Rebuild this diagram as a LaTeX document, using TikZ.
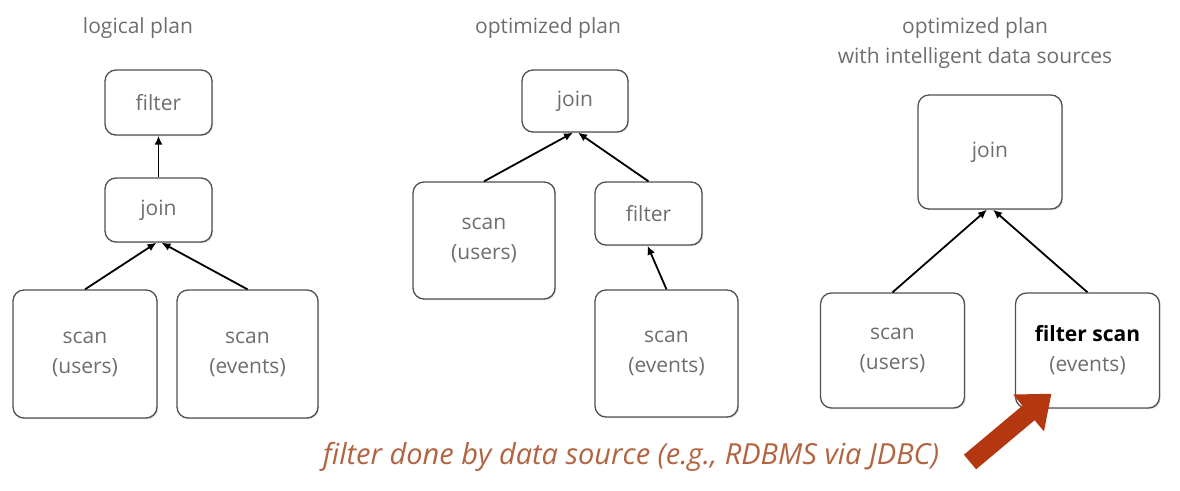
\documentclass[tikz,border=0pt]{standalone}
\usepackage{fontspec}
\setmainfont{Open Sans}
\usetikzlibrary{arrows.meta,shadows}
\definecolor{boxgray}{HTML}{505050}
\definecolor{textgray}{HTML}{6E6E6E}
\definecolor{notebrown}{HTML}{B2633F}
\definecolor{pushred}{HTML}{B3380F}

\begin{document}
\begin{tikzpicture}[x=1pt, y=-1pt,
  every node/.style = {align=center, text=textgray,
    font=\fontsize{21}{30}\selectfont},
  op/.style = {draw=boxgray, line width=1.3pt, rounded corners=11pt,
    fill=white, inner sep=0pt,
    drop shadow={opacity=0.25, shadow xshift=1.2pt, shadow yshift=-1.2pt}},
  flow/.style = {-{Latex[length=9pt,width=8pt]}, line width=1.8pt, black}]
  \useasboundingbox (0,0) rectangle (1180,490);

  % logical plan
  \node (ltitle) at (138,28) {logical plan};
  \node[op, minimum width=107pt, minimum height=65pt] (lfilter) at (158.5,102.5) {filter};
  \node[op, minimum width=107pt, minimum height=64pt] (ljoin) at (158.5,210) {join};
  \node[op, minimum width=144pt, minimum height=128pt] (lusers) at (85,354) {scan\\(users)};
  \node[op, minimum width=141pt, minimum height=128pt] (levents) at (247.5,354) {scan\\(events)};
  \draw[flow] (ljoin.north) -- (lfilter.south);
  \draw[flow] (lusers.north) -- ([xshift=-2pt]ljoin.south);
  \draw[flow] (levents.north) -- ([xshift=3pt]ljoin.south);

  % optimized plan
  \node (mtitle) at (548,28) {optimized plan};
  \node[op, minimum width=106pt, minimum height=62pt] (mjoin) at (575,101) {join};
  \node[op, minimum width=142pt, minimum height=117pt] (musers) at (484,240.5) {scan\\(users)};
  \node[op, minimum width=107pt, minimum height=63pt] (mfilter) at (648.5,213.5) {filter};
  \node[op, minimum width=143pt, minimum height=127pt] (mevents) at (666.5,353.5) {scan\\(events)};
  \draw[flow] (musers.north) -- ([xshift=-2pt]mjoin.south);
  \draw[flow] (mfilter.north) -- ([xshift=3pt]mjoin.south);
  \draw[flow] (mevents.north) -- ([xshift=-1pt]mfilter.south);

  % optimized plan with intelligent data sources
  \node (rtitle) at (975,43) {optimized plan\\with intelligent data sources};
  \node[op, minimum width=144pt, minimum height=114pt] (rjoin) at (990,152) {join};
  \node[op, minimum width=144pt, minimum height=115pt] (rusers) at (892.5,350.5) {scan\\(users)};
  \node[op, minimum width=144pt, minimum height=115pt] (rscan) at (1087.5,350.5)
    {\textbf{\textcolor{black}{filter scan}}\\(events)};
  \draw[flow] (rusers.north) -- ([xshift=-3pt]rjoin.south);
  \draw[flow] (rscan.north) -- ([xshift=3pt]rjoin.south);

  % note
  \node[text=notebrown, font=\fontsize{29}{34}\selectfont\itshape] (note) at (631,457)
    {filter done by data source (e.g., RDBMS via JDBC)};
  \coordinate (tail) at (970,462);
  \draw[pushred, line width=19pt, -{Triangle[length=30pt,width=46pt]}]
    (tail) -- ([xshift=-36pt,yshift=15pt]rscan.south);
\end{tikzpicture}
\end{document}
